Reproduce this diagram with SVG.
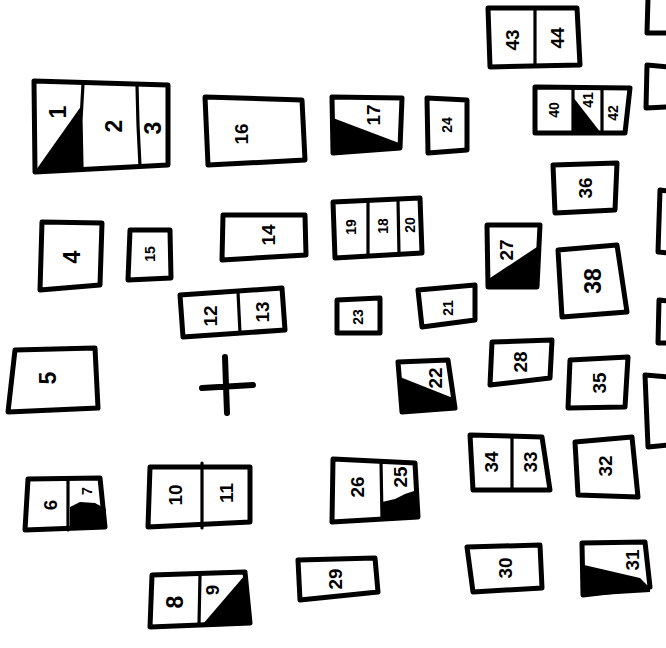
<svg xmlns="http://www.w3.org/2000/svg" width="666" height="648" viewBox="0 0 666 648">
<style>
.b{fill:none;stroke:#000;stroke-width:5;stroke-linejoin:round;stroke-linecap:round}
.d{fill:none;stroke:#000;stroke-width:3.2;stroke-linecap:round}
.k{fill:#000}
.t{font-family:"Liberation Sans",Arial,sans-serif;font-weight:bold;font-size:19px;text-anchor:middle;dominant-baseline:central;fill:#000}
.s{font-size:14px}
.l{font-size:23px}
</style>
<rect width="666" height="648" fill="#fff"/>

<g id="p1-2-3">
<polygon class="k" points="36,170 82,105 82,168"/>
<path class="b" d="M34,81 L168,85 L168,165 L35,172 Z"/>
<path class="d" d="M83,84 L81,120 L82,168"/>
<path class="d" d="M137,85 L138,125 L140,166"/>
<text class="t l" transform="translate(58,112) rotate(-90)">1</text>
<text class="t l" transform="translate(114,126) rotate(-90)">2</text>
<text class="t l" transform="translate(153,128) rotate(-90)">3</text>
</g>

<g id="p16">
<path class="b" d="M205,97 L302,100 L305,160 L208,165 Z"/>
<text class="t" transform="translate(241,134) rotate(-90)">16</text>
</g>

<g id="p17">
<polygon class="k" points="333,118 399,143 399,150 333,153"/>
<path class="b" d="M332,97 L402,98 L400,148 L333,153 Z"/>
<text class="t" transform="translate(373,115) rotate(-90)">17</text>
</g>

<g id="p24">
<path class="b" d="M427,98 L467,100 L467,150 L428,153 Z"/>
<text class="t s" transform="translate(447,125) rotate(-90)">24</text>
</g>

<g id="p43-44">
<path class="b" d="M488,8 L577,8 L580,65 L490,67 Z"/>
<path class="d" d="M535,9 L535,66"/>
<text class="t" transform="translate(512,40) rotate(-90)">43</text>
<text class="t" transform="translate(557,38) rotate(-90)">44</text>
</g>

<g id="p40-41-42">
<polygon class="k" points="573,97 601,133 573,133"/>
<path class="b" d="M535,87 L630,88 L625,133 L535,133 Z"/>
<path class="d" d="M573,88 L573,133"/>
<path class="d" d="M602,88 L602,133"/>
<text class="t s" transform="translate(554,110) rotate(-90)">40</text>
<text class="t s" transform="translate(588,100) rotate(-90)">41</text>
<text class="t s" transform="translate(613,113) rotate(-90)">42</text>
</g>

<g id="p36">
<path class="b" d="M553,165 L617,163 L615,210 L555,213 Z"/>
<text class="t" transform="translate(585,188) rotate(-90)">36</text>
</g>

<g id="p4">
<path class="b" d="M42,222 L102,223 L100,285 L40,290 Z"/>
<text class="t l" transform="translate(72,257) rotate(-90)">4</text>
</g>

<g id="p15">
<path class="b" d="M130,230 L170,230 L171,278 L128,280 Z"/>
<text class="t s" transform="translate(150,254) rotate(-90)">15</text>
</g>

<g id="p14">
<path class="b" d="M223,215 L305,215 L306,255 L222,260 Z"/>
<text class="t" transform="translate(268,235) rotate(-90)">14</text>
</g>

<g id="p12-13">
<path class="b" d="M180,295 L282,288 L285,330 L183,337 Z"/>
<path class="d" d="M238,292 L240,333"/>
<text class="t" transform="translate(210,316) rotate(-90)">12</text>
<text class="t" transform="translate(262,312) rotate(-90)">13</text>
</g>

<g id="p19-18-20">
<path class="b" d="M333,202 L420,198 L422,253 L335,258 Z"/>
<path class="d" d="M368,201 L368,256"/>
<path class="d" d="M398,200 L399,255"/>
<text class="t s" transform="translate(351,227) rotate(-90)">19</text>
<text class="t s" transform="translate(383,226) rotate(-90)">18</text>
<text class="t s" transform="translate(410,225) rotate(-90)">20</text>
</g>

<g id="p27">
<polygon class="k" points="490,278 537,247 537,287 490,287"/>
<path class="b" d="M487,225 L540,225 L537,287 L488,287 Z"/>
<text class="t" transform="translate(506,250) rotate(-90)">27</text>
</g>

<g id="p38">
<path class="b" d="M558,250 L617,245 L627,312 L562,317 Z"/>
<text class="t l" transform="translate(593,281) rotate(-90)">38</text>
</g>

<g id="p23">
<path class="b" d="M337,300 L380,298 L380,333 L337,333 Z"/>
<text class="t s" transform="translate(358,317) rotate(-90)">23</text>
</g>

<g id="p21">
<path class="b" d="M418,290 L475,285 L475,320 L422,327 Z"/>
<text class="t s" transform="translate(448,308) rotate(-90)">21</text>
</g>

<g id="p22">
<polygon class="k" points="400,377 453,398 455,410 402,412"/>
<path class="b" d="M398,362 L448,360 L455,408 L402,412 Z"/>
<text class="t" transform="translate(435,378) rotate(-90)">22</text>
</g>

<g id="p28">
<path class="b" d="M492,342 L552,340 L550,378 L490,385 Z"/>
<text class="t" transform="translate(520,362) rotate(-90)">28</text>
</g>

<g id="p35">
<path class="b" d="M570,360 L628,357 L625,407 L568,408 Z"/>
<text class="t" transform="translate(599,383) rotate(-90)">35</text>
</g>

<g id="p34-33">
<path class="b" d="M470,435 L542,437 L550,490 L473,490 Z"/>
<path class="d" d="M512,436 L512,490"/>
<text class="t" transform="translate(491,462) rotate(-90)">34</text>
<text class="t" transform="translate(530,462) rotate(-90)">33</text>
</g>

<g id="p32">
<path class="b" d="M575,442 L632,437 L638,497 L578,495 Z"/>
<text class="t" transform="translate(605,466) rotate(-90)">32</text>
</g>

<g id="p5">
<path class="b" d="M15,350 L95,348 L98,408 L8,412 Z"/>
<text class="t l" transform="translate(48,378) rotate(-90)">5</text>
</g>

<g id="cross">
<path class="b" d="M225,357 L227,413 M202,388 L253,385" style="stroke-width:6"/>
</g>

<g id="p26-25">
<path class="k" d="M382,502 L395,499 L405,494 L417,490 L418,517 L382,518 Z"/>
<path class="b" d="M333,459 L415,463 L418,517 L332,522 Z"/>
<path class="d" d="M381,461 L382,519"/>
<text class="t" transform="translate(357,487) rotate(-90)">26</text>
<text class="t" transform="translate(400,477) rotate(-90)">25</text>
</g>

<g id="p6-7">
<path class="k" d="M70,507 L80,502 L95,503 L106,509 L106,528 L70,530 Z"/>
<path class="b" d="M28,479 L100,478 L105,527 L25,530 Z"/>
<path class="d" d="M68,479 L68,530"/>
<text class="t" transform="translate(50,505) rotate(-90)">6</text>
<text class="t s" transform="translate(87,491) rotate(-90)">7</text>
</g>

<g id="p10-11">
<path class="b" d="M150,467 L250,467 L250,522 L148,527 Z"/>
<path class="d" d="M202,463 L202,528"/>
<text class="t" transform="translate(175,495) rotate(-90)">10</text>
<text class="t" transform="translate(226,493) rotate(-90)">11</text>
</g>

<g id="p8-9">
<polygon class="k" points="203,624 245,575 250,624"/>
<path class="b" d="M152,575 L245,572 L250,623 L150,627 Z"/>
<path class="d" d="M200,575 L199,625"/>
<text class="t l" transform="translate(175,602) rotate(-90)">8</text>
<text class="t" transform="translate(212,590) rotate(-90)">9</text>
</g>

<g id="p29">
<path class="b" d="M298,560 L375,558 L378,592 L300,600 Z"/>
<text class="t" transform="translate(335,579) rotate(-90)">29</text>
</g>

<g id="p30">
<path class="b" d="M467,547 L540,545 L542,588 L473,592 Z"/>
<text class="t" transform="translate(505,568) rotate(-90)">30</text>
</g>

<g id="p31">
<path class="k" d="M584,565 L640,578 L650,588 L650,592 L584,596 Z"/>
<path class="b" d="M582,543 L645,542 L650,587 L583,595 Z"/>
<text class="t" transform="translate(632,560) rotate(-90)">31</text>
</g>

<g id="edge1"><path class="b" d="M668,33 L647,33 L648,-2"/></g>
<g id="edge2"><path class="b" d="M668,67 L647,65 L646,108 L668,107"/></g>
<g id="edge3"><path class="b" d="M668,191 L660,190 L658,252 L668,253"/></g>
<g id="edge4"><path class="b" d="M668,301 L659,300 L658,343 L668,343"/></g>
<g id="edge5"><path class="b" d="M668,377 L645,375 L648,447 L668,445"/></g>
</svg>
